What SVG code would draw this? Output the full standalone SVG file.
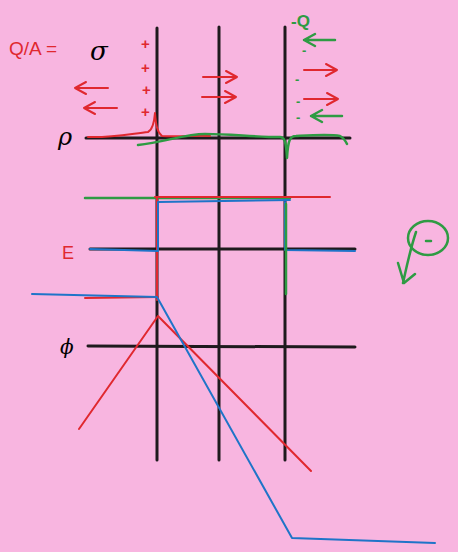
<svg xmlns="http://www.w3.org/2000/svg" width="458" height="552" viewBox="0 0 458 552">
<style>
.k{stroke:#1e1a1d;stroke-width:3;fill:none;stroke-linecap:round}
.r{stroke:#e0282f;stroke-width:2;fill:none;stroke-linecap:round;stroke-linejoin:round}
.g{stroke:#2e9b43;stroke-width:2.5;fill:none;stroke-linecap:round;stroke-linejoin:round}
.b{stroke:#1f74c8;stroke-width:2;fill:none;stroke-linecap:round;stroke-linejoin:round}
.tr{fill:#e0282f;font-family:"Liberation Sans",sans-serif}
.tg{fill:#2e9b43;font-family:"Liberation Sans",sans-serif}
.tk{fill:#000;font-family:"DejaVu Serif",serif;font-style:italic}
</style>
<rect width="458" height="552" fill="#f8b5e0"/>
<g id="grid">
<path class="k" d="M157 28V460M219 27V460M285 27V460"/>
<path class="k" d="M86 138H350M90 249H355M88 346L355 347"/>
</g>
<g id="labels">
<text class="tr" x="9" y="55" font-size="19">Q/A =</text>
<text class="tk" x="90" y="60" font-size="26">σ</text>
<text class="tk" x="58" y="145" font-size="24">ρ</text>
<text class="tr" x="62" y="259" font-size="18">E</text>
<text class="tk" x="60" y="354" font-size="20">ϕ</text>
<g class="tr" font-size="15" font-weight="bold">
<text x="141" y="49">+</text><text x="141" y="73">+</text><text x="142" y="95">+</text><text x="141" y="117">+</text>
</g>
<text class="tg" x="291" y="27" font-size="17" font-weight="bold">-Q</text>
<g class="tg" font-size="13" font-weight="bold">
<text x="302" y="55">-</text><text x="295" y="84">-</text><text x="296" y="106">-</text><text x="296" y="122">-</text>
</g>
</g>
<g id="arrows">
<path class="r" d="M108 88H75M86 82L75 88L86 94M117 108H84M95 102L84 108L95 114"/>
<path class="r" d="M203 77H237M226 71L237 77L226 83M202 97H236M225 91L236 97L225 103"/>
<path class="r" d="M304 70H337M326 64L337 70L326 76M304 99H338M327 93L338 99L327 105"/>
<path class="g" d="M335 40H304M315 34L304 40L315 46M342 116H311M322 110L311 116L322 122"/>
</g>
<g id="rho">
<path class="r" d="M88 137C110 138 130 134 148 132C152 130 154 125 155 113C156 125 157 132 162 136C180 137 200 135 210 136"/>
<path class="g" d="M138 145C165 142 185 134 205 134C230 134 255 137 280 137C284 137 286 140 287 158C288 140 290 136 296 136C315 135 330 134 340 136C344 138 346 142 347 144"/>
</g>
<g id="E">
<path class="g" d="M85 198H290"/>
<path class="r" d="M155 197H330"/>
<path class="r" d="M157 197V300M85 298L158 297"/>
<path class="b" d="M90 249L158 251V202L290 200M285 200V250L355 251"/>
<path class="g" d="M286 204V294"/>
</g>
<g id="phi">
<path class="r" d="M79 429L158 316L311 471"/>
<path class="b" d="M32 294L157 297L292 538L435 543"/>
</g>
<g id="electron">
<ellipse class="g" cx="428" cy="238" rx="20" ry="17" stroke-width="2"/>
<path class="g" d="M426 241H431" stroke-width="2"/>
<path class="g" d="M416 232C410 250 407 265 403 283M398 263L404 283L415 274"/>
</g>
</svg>
